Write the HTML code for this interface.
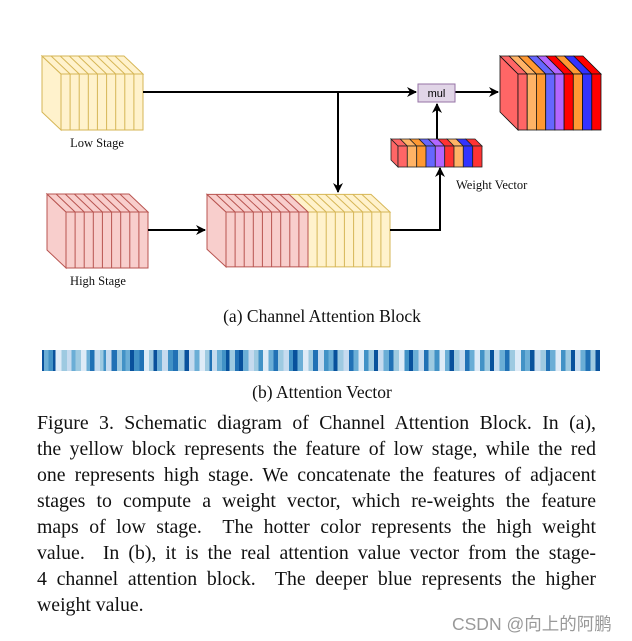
<!DOCTYPE html>
<html><head><meta charset="utf-8"><style>
body{margin:0;background:#fff;width:632px;height:641px;overflow:hidden;position:relative;font-family:"Liberation Serif",serif;}
svg{position:absolute;left:0;top:0}
.cap{position:absolute;left:37px;width:559px;font-size:19.8px;line-height:26px;color:#111;}
.cap div{text-align:justify;text-align-last:justify;white-space:nowrap;}
.cap div.l{text-align-last:left}
.bar{position:absolute;left:42px;top:350px;width:558px;height:21px;background:linear-gradient(90deg,
#08519c 0 0.4%,#6baed6 0.4% 1.2%,#4292c6 1.2% 2%,#08519c 2% 2.4%,#deebf7 2.4% 3.5%,#9ecae1 3.5% 4.5%,#c6dbef 4.5% 5.3%,#6baed6 5.3% 6%,#9ecae1 6% 7%,#deebf7 7% 8%,#6baed6 8% 8.6%,#2171b5 8.6% 9.4%,#c6dbef 9.4% 10.4%,#9ecae1 10.4% 11%,#4292c6 11% 11.5%,#c6dbef 11.5% 12.5%,#2171b5 12.5% 13.4%,#9ecae1 13.4% 14.3%,#4292c6 14.3% 15%,#6baed6 15% 15.8%,#08519c 15.8% 16.5%,#4292c6 16.5% 17.5%,#2171b5 17.5% 18.3%,#deebf7 18.3% 19.2%,#9ecae1 19.2% 20%,#08519c 20% 20.6%,#6baed6 20.6% 21.5%,#c6dbef 21.5% 22.6%,#4292c6 22.6% 23.5%,#2171b5 23.5% 24.4%,#9ecae1 24.4% 25.5%,#08519c 25.5% 26.3%,#c6dbef 26.3% 27.3%,#6baed6 27.3% 28.2%,#deebf7 28.2% 29.2%,#9ecae1 29.2% 30%,#2171b5 30% 30.5%,#c6dbef 30.5% 31.4%,#6baed6 31.4% 32.3%,#4292c6 32.3% 33%,#08519c 33% 33.6%,#9ecae1 33.6% 34.6%,#2171b5 34.6% 35.3%,#08519c 35.3% 36%,#6baed6 36% 37%,#c6dbef 37% 38%,#9ecae1 38% 38.8%,#4292c6 38.8% 39.6%,#deebf7 39.6% 40.6%,#6baed6 40.6% 41.5%,#2171b5 41.5% 42.3%,#9ecae1 42.3% 43.3%,#c6dbef 43.3% 44.3%,#4292c6 44.3% 45%,#08519c 45% 45.8%,#6baed6 45.8% 46.8%,#deebf7 46.8% 47.8%,#9ecae1 47.8% 48.6%,#2171b5 48.6% 49.5%,#c6dbef 49.5% 50.5%,#4292c6 50.5% 51.3%,#6baed6 51.3% 52.2%,#08519c 52.2% 53%,#9ecae1 53% 54%,#c6dbef 54% 55%,#2171b5 55% 55.8%,#6baed6 55.8% 56.7%,#deebf7 56.7% 57.7%,#4292c6 57.7% 58.5%,#9ecae1 58.5% 59.5%,#08519c 59.5% 60.2%,#c6dbef 60.2% 61.2%,#6baed6 61.2% 62.2%,#2171b5 62.2% 63%,#9ecae1 63% 64%,#deebf7 64% 65%,#4292c6 65% 65.8%,#08519c 65.8% 66.5%,#6baed6 66.5% 67.5%,#c6dbef 67.5% 68.5%,#2171b5 68.5% 69.3%,#9ecae1 69.3% 70.3%,#4292c6 70.3% 71.2%,#deebf7 71.2% 72.2%,#6baed6 72.2% 73%,#08519c 73% 73.8%,#9ecae1 73.8% 74.8%,#c6dbef 74.8% 75.8%,#2171b5 75.8% 76.6%,#6baed6 76.6% 77.5%,#deebf7 77.5% 78.5%,#4292c6 78.5% 79.3%,#9ecae1 79.3% 80.3%,#08519c 80.3% 81%,#c6dbef 81% 82%,#6baed6 82% 83%,#2171b5 83% 83.8%,#9ecae1 83.8% 84.8%,#deebf7 84.8% 85.8%,#4292c6 85.8% 86.6%,#6baed6 86.6% 87.5%,#08519c 87.5% 88.3%,#c6dbef 88.3% 89.3%,#9ecae1 89.3% 90.3%,#2171b5 90.3% 91%,#6baed6 91% 92%,#deebf7 92% 93%,#4292c6 93% 93.8%,#9ecae1 93.8% 94.8%,#08519c 94.8% 95.5%,#c6dbef 95.5% 96.5%,#6baed6 96.5% 97.4%,#2171b5 97.4% 98.3%,#9ecae1 98.3% 99.2%,#08519c 99.2% 100%);}
</style></head><body>
<svg width="632" height="641" viewBox="0 0 632 641">
<defs>
<g id="yb" fill="#fff2cc" stroke="#d6b656" stroke-width="1">
<polygon points="0,0 -19,-18 -19,38 0,56"/>
<polygon points="-19,-18 63,-18 82,0 0,0"/>
<rect x="0" y="0" width="82" height="56"/>
<path fill="none" d="M9.1,0v56M18.2,0v56M27.3,0v56M36.4,0v56M45.6,0v56M54.7,0v56M63.8,0v56M72.9,0v56M9.1,0l-19,-18M18.2,0l-19,-18M27.3,0l-19,-18M36.4,0l-19,-18M45.6,0l-19,-18M54.7,0l-19,-18M63.8,0l-19,-18M72.9,0l-19,-18"/>
</g>
<g id="rb" fill="#f8cecc" stroke="#b85450" stroke-width="1">
<polygon points="0,0 -19,-18 -19,38 0,56"/>
<polygon points="-19,-18 63,-18 82,0 0,0"/>
<rect x="0" y="0" width="82" height="56"/>
<path fill="none" d="M9.1,0v56M18.2,0v56M27.3,0v56M36.4,0v56M45.6,0v56M54.7,0v56M63.8,0v56M72.9,0v56M9.1,0l-19,-18M18.2,0l-19,-18M27.3,0l-19,-18M36.4,0l-19,-18M45.6,0l-19,-18M54.7,0l-19,-18M63.8,0l-19,-18M72.9,0l-19,-18"/>
</g>
<marker id="ar" markerWidth="10" markerHeight="10" refX="9" refY="5" orient="auto" markerUnits="userSpaceOnUse"><path d="M0,0 L10,5 L0,10 L3,5z" fill="#000"/></marker>
</defs>
<use href="#yb" transform="translate(61,74)"/>
<use href="#rb" transform="translate(66,212)"/>
<use href="#yb" transform="translate(308,212) scale(1,0.98)"/>
<use href="#rb" transform="translate(226,212) scale(1,0.98)"/>

<g stroke="#000" stroke-width="2" fill="none">
<path d="M143,92H416" marker-end="url(#ar)"/>
<path d="M338,92V192" marker-end="url(#ar)"/>
<path d="M148,230H205" marker-end="url(#ar)"/>
<path d="M390,230H440V168" marker-end="url(#ar)"/>
<path d="M437,139V104" marker-end="url(#ar)"/>
<path d="M455,92H498" marker-end="url(#ar)"/>
</g>
<rect x="418" y="84" width="37" height="18" fill="#e1d5e7" stroke="#9673a6"/>
<text x="436.5" y="97" font-family="Liberation Sans,sans-serif" font-size="11" text-anchor="middle">mul</text>

<g stroke="#111" stroke-width="0.8">
<polygon points="518,74 500,56 500,112 518,130" fill="#f66"/>
<polygon points="518,74 500,56 509.2,56 527.2,74" fill="#f66"/>
<polygon points="527.2,74 509.2,56 518.4,56 536.4,74" fill="#ffb366"/>
<polygon points="536.4,74 518.4,56 527.7,56 545.7,74" fill="#f93"/>
<polygon points="545.7,74 527.7,56 536.9,56 554.9,74" fill="#66f"/>
<polygon points="554.9,74 536.9,56 546.1,56 564.1,74" fill="#b266ff"/>
<polygon points="564.1,74 546.1,56 555.3,56 573.3,74" fill="#f00"/>
<polygon points="573.3,74 555.3,56 564.5,56 582.5,74" fill="#f93"/>
<polygon points="582.5,74 564.5,56 573.8,56 591.8,74" fill="#33f"/>
<polygon points="591.8,74 573.8,56 583,56 601,74" fill="#f00"/>
<rect x="518" y="74" width="9.2" height="56" fill="#f66"/>
<rect x="527.2" y="74" width="9.2" height="56" fill="#ffb366"/>
<rect x="536.4" y="74" width="9.3" height="56" fill="#f93"/>
<rect x="545.7" y="74" width="9.2" height="56" fill="#66f"/>
<rect x="554.9" y="74" width="9.2" height="56" fill="#b266ff"/>
<rect x="564.1" y="74" width="9.2" height="56" fill="#f00"/>
<rect x="573.3" y="74" width="9.2" height="56" fill="#f93"/>
<rect x="582.5" y="74" width="9.3" height="56" fill="#33f"/>
<rect x="591.8" y="74" width="9.2" height="56" fill="#f00"/>
</g>
<g stroke="#222" stroke-width="0.8">
<polygon points="398,146 391,139 391,160 398,167" fill="#f66"/>
<polygon points="398,146 391,139 400.3,139 407.3,146" fill="#f66"/>
<polygon points="407.3,146 400.3,139 409.7,139 416.7,146" fill="#ffb366"/>
<polygon points="416.7,146 409.7,139 419,139 426,146" fill="#f93"/>
<polygon points="426,146 419,139 428.3,139 435.3,146" fill="#66f"/>
<polygon points="435.3,146 428.3,139 437.7,139 444.7,146" fill="#b266ff"/>
<polygon points="444.7,146 437.7,139 447,139 454,146" fill="#f33"/>
<polygon points="454,146 447,139 456.3,139 463.3,146" fill="#ffb366"/>
<polygon points="463.3,146 456.3,139 465.7,139 472.7,146" fill="#33f"/>
<polygon points="472.7,146 465.7,139 475,139 482,146" fill="#f33"/>
<rect x="398" y="146" width="9.3" height="21" fill="#f66"/>
<rect x="407.3" y="146" width="9.4" height="21" fill="#ffb366"/>
<rect x="416.7" y="146" width="9.3" height="21" fill="#f93"/>
<rect x="426" y="146" width="9.3" height="21" fill="#66f"/>
<rect x="435.3" y="146" width="9.4" height="21" fill="#b266ff"/>
<rect x="444.7" y="146" width="9.3" height="21" fill="#f33"/>
<rect x="454" y="146" width="9.3" height="21" fill="#ffb366"/>
<rect x="463.3" y="146" width="9.4" height="21" fill="#33f"/>
<rect x="472.7" y="146" width="9.3" height="21" fill="#f33"/>
</g>
<g font-family="Liberation Serif,serif" font-size="12.5" fill="#111">
<text x="97" y="147" text-anchor="middle">Low Stage</text>
<text x="98" y="285" text-anchor="middle">High Stage</text>
<text x="456" y="189">Weight Vector</text>
</g>
<g font-family="Liberation Serif,serif" font-size="17.5" fill="#111" text-anchor="middle" style="white-space:pre">
<text x="322" y="322">(a)  Channel Attention Block</text>
<text x="322" y="398">(b)  Attention Vector</text>
</g>
</svg>
<div class="bar"></div>
<div class="cap" style="top:410px">
<div>Figure 3. Schematic diagram of Channel Attention Block. In (a),</div>
<div>the yellow block represents the feature of low stage, while the red</div>
<div>one represents high stage. We concatenate the features of adjacent</div>
<div>stages to compute a weight vector, which re-weights the feature</div>
<div>maps of low stage.&nbsp; The hotter color represents the high weight</div>
<div>value.&nbsp; In (b), it is the real attention value vector from the stage-</div>
<div>4 channel attention block.&nbsp; The deeper blue represents the higher</div>
<div class="l">weight value.</div>
</div>
<div style="position:absolute;left:452px;top:611px;font-family:'Liberation Sans','Noto Sans CJK SC',sans-serif;font-size:17.5px;color:#999;">CSDN @向上的阿鹏</div>
</body></html>
